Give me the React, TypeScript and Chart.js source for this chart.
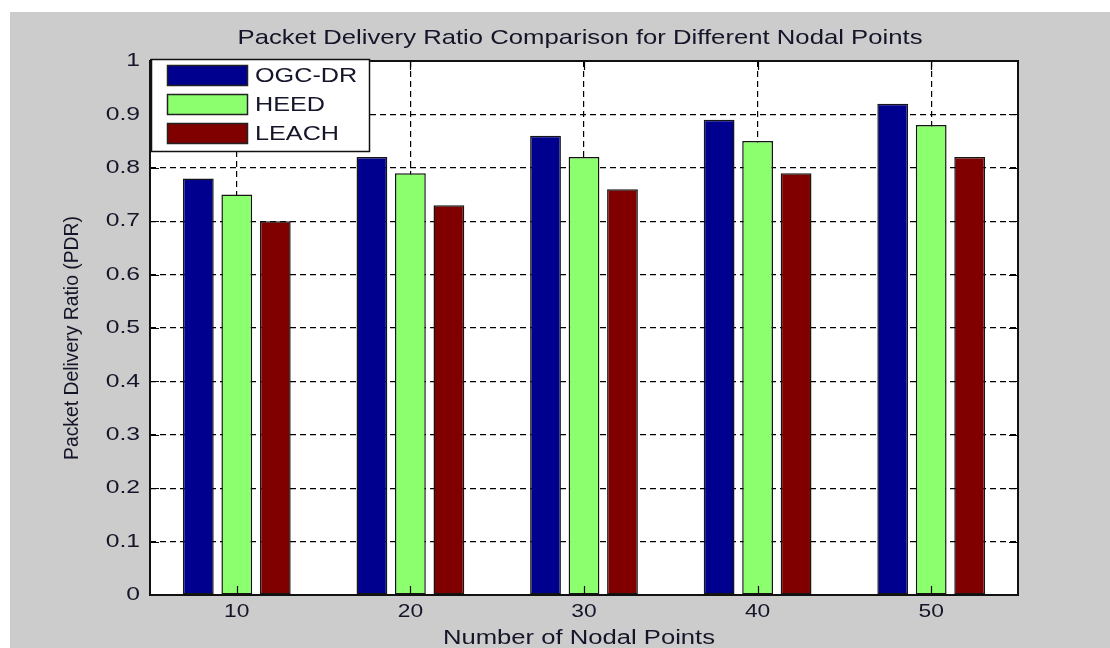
import React, { useEffect, useRef } from "react";
import { Chart, registerables } from "chart.js";

Chart.register(...registerables);

const categories = ["10", "20", "30", "40", "50"];
const ogcdrValues = [0.78, 0.82, 0.86, 0.89, 0.92];
const heedValues = [0.75, 0.79, 0.82, 0.85, 0.88];
const leachValues = [0.7, 0.73, 0.76, 0.79, 0.82];
const seriesNames = ["OGC-DR", "HEED", "LEACH"];
const seriesColors = ["#00008f", "#8cff6e", "#800000"];
const titleText = "Packet Delivery Ratio Comparison for Different Nodal Points";
const xTitle = "Number of Nodal Points";
const yTitle = "Packet Delivery Ratio (PDR)";

const FONT = "Arial, 'Liberation Sans', sans-serif";
const TEXT_COLOR = "#15152a";

function drawText(
  ctx: CanvasRenderingContext2D,
  text: string,
  x: number,
  y: number,
  size: number,
  sx: number,
  align: CanvasTextAlign,
  rotate = 0
) {
  ctx.save();
  ctx.font = `${size}px ${FONT}`;
  ctx.fillStyle = TEXT_COLOR;
  ctx.translate(x, y);
  if (rotate) ctx.rotate(rotate);
  ctx.scale(sx, 1);
  ctx.textAlign = align;
  ctx.textBaseline = "middle";
  ctx.fillText(text, 0, 0);
  ctx.restore();
}

function fitScale(ctx: CanvasRenderingContext2D, text: string, size: number, width: number) {
  ctx.save();
  ctx.font = `${size}px ${FONT}`;
  const w = ctx.measureText(text).width;
  ctx.restore();
  return width / w;
}

const framePlugin = {
  id: "matlabFrame",
  beforeDraw(chart: any) {
    const { ctx, chartArea: a } = chart;
    ctx.save();
    ctx.fillStyle = "#cccccc";
    ctx.fillRect(0, 0, chart.width, chart.height);
    ctx.fillStyle = "#ffffff";
    ctx.fillRect(a.left, a.top, a.right - a.left, a.bottom - a.top);
    ctx.restore();
  },
  afterDraw(chart: any) {
    const { ctx, chartArea: a } = chart;
    const xs = chart.scales.x;
    const ys = chart.scales.y;
    const tl = 9;
    ctx.save();
    // inward ticks
    ctx.strokeStyle = "#000";
    ctx.lineWidth = 1.2;
    ctx.beginPath();
    ys.ticks.forEach((t: any, i: number) => {
      const py = Math.round(ys.getPixelForTick(i)) + 0.5;
      ctx.moveTo(a.left, py);
      ctx.lineTo(a.left + tl, py);
      ctx.moveTo(a.right, py);
      ctx.lineTo(a.right - tl, py);
    });
    xs.ticks.forEach((t: any, i: number) => {
      const px = Math.round(xs.getPixelForTick(i)) + 0.5;
      ctx.moveTo(px, a.bottom);
      ctx.lineTo(px, a.bottom - tl);
      ctx.moveTo(px, a.top);
      ctx.lineTo(px, a.top + tl);
    });
    ctx.stroke();
    // box
    ctx.lineWidth = 2;
    ctx.strokeStyle = "#111";
    ctx.strokeRect(a.left, a.top, a.right - a.left, a.bottom - a.top);
    ctx.restore();

    // tick labels
    ys.ticks.forEach((t: any, i: number) => {
      const py = ys.getPixelForTick(i);
      const label = String(Number(t.value.toFixed(1)));
      drawText(ctx, label, a.left - 10, py, 19, 1.3, "right");
    });
    xs.ticks.forEach((t: any, i: number) => {
      const px = xs.getPixelForTick(i);
      drawText(ctx, categories[i], px, a.bottom + 17, 19, 1.2, "center");
    });

    // titles
    drawText(ctx, titleText, 570, 26, 21, fitScale(ctx, titleText, 21, 685), "center");
    drawText(ctx, xTitle, 569, 626, 20, fitScale(ctx, xTitle, 20, 272), "center");
    drawText(ctx, yTitle, 62, 326, 20, fitScale(ctx, yTitle, 20, 244), "center", -Math.PI / 2);

    // legend
    const lx = 141, ly = 47, lw = 218, lh = 92;
    ctx.save();
    ctx.fillStyle = "#fff";
    ctx.fillRect(lx, ly, lw, lh);
    ctx.strokeStyle = "#111";
    ctx.lineWidth = 1.5;
    ctx.strokeRect(lx + 0.5, ly + 0.5, lw, lh);
    ctx.fillStyle = "#111";
    ctx.fillRect(lx - 1, ly, 2, lh);
    chart.data.datasets.forEach((ds: any, i: number) => {
      const ry = ly + 6 + i * 29;
      ctx.fillStyle = ds.backgroundColor;
      ctx.fillRect(lx + 16, ry, 81, 21);
      ctx.strokeStyle = "#222";
      ctx.lineWidth = 1.5;
      ctx.strokeRect(lx + 16.5, ry + 0.5, 80, 20);
      drawText(ctx, ds.label, lx + 104, ry + 11, 21, 1.2, "left");
    });
    ctx.restore();
  },
};

export default function App() {
  const ref = useRef<HTMLCanvasElement | null>(null);
  useEffect(() => {
    document.body.style.margin = "0";
    const canvas = ref.current;
    if (!canvas) return;
    const values = [ogcdrValues, heedValues, leachValues];
    const chart = new Chart(canvas, {
      type: "bar",
      data: {
        labels: categories,
        datasets: seriesNames.map((name, i) => ({
          label: name,
          data: values[i],
          backgroundColor: seriesColors[i],
          borderColor: "#151515",
          borderWidth: 1.5,
          borderSkipped: false,
          barPercentage: 0.8,
          categoryPercentage: 0.665,
        })),
      },
      options: {
        responsive: false,
        animation: false,
        devicePixelRatio: 1,
        layout: { padding: { top: 49, right: 92, left: 0, bottom: 0 } },
        plugins: {
          legend: { display: false },
          title: { display: false },
          tooltip: { enabled: false },
        },
        scales: {
          x: {
            type: "category",
            offset: true,
            grid: { offset: false, color: "#000", lineWidth: 1.2, drawTicks: false },
            border: { display: false, dash: [6, 4] },
            ticks: { display: false },
            afterFit: (s: any) => {
              s.height = 53;
            },
          },
          y: {
            min: 0,
            max: 1,
            grid: { color: "#000", lineWidth: 1.2, drawTicks: false },
            border: { display: false, dash: [6, 4] },
            ticks: { display: false, stepSize: 0.1 },
            afterFit: (s: any) => {
              s.width = 140;
            },
          },
        },
      },
      plugins: [framePlugin],
    });
    return () => chart.destroy();
  }, []);
  return (
    <div style={{ position: "fixed", left: 10, top: 12, width: 1100, height: 636 }}>
      <canvas ref={ref} width={1100} height={636} style={{ width: 1100, height: 636 }} />
    </div>
  );
}
